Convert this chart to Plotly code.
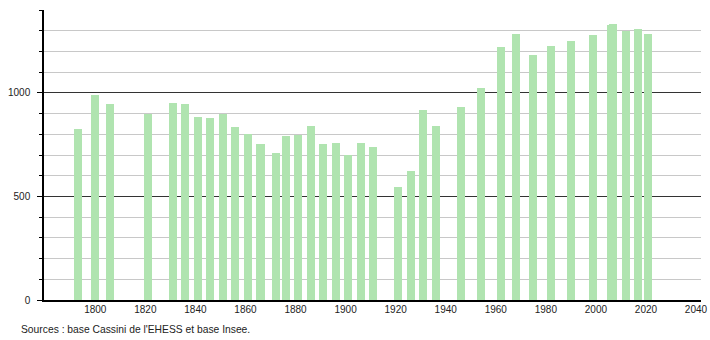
import plotly.graph_objects as go

years = [1793, 1800, 1806, 1821, 1831, 1836, 1841, 1846, 1851, 1856,
         1861, 1866, 1872, 1876, 1881, 1886, 1891, 1896, 1901, 1906,
         1911, 1921, 1926, 1931, 1936, 1946, 1954, 1962, 1968, 1975,
         1982, 1990, 1999, 2006, 2007, 2012, 2017, 2021]
population = [824, 988, 945, 896, 951, 945, 883, 879, 900, 835,
              800, 751, 708, 792, 798, 838, 751, 760, 701, 760,
              740, 547, 625, 916, 838, 932, 1022, 1221, 1284, 1182,
              1225, 1249, 1280, 1328, 1332, 1301, 1308, 1284]
x_ticks = [1800, 1820, 1840, 1860, 1880, 1900, 1920, 1940, 1960, 1980, 2000, 2020, 2040]
y_ticks = [0, 500, 1000]
source_text = "Sources : base Cassini de l'EHESS et base Insee."

W, H = 710, 340
L, R, T, B = 44, 9, 10, 40

fig = go.Figure()
fig.add_trace(go.Bar(
    x=years, y=population, width=3.2,
    marker=dict(color="#b0e4b0", line=dict(width=0)),
    hoverinfo="x+y",
))

font = dict(family="Liberation Sans, Arial, sans-serif", size=10, color="#222")

fig.update_layout(
    width=W, height=H,
    margin=dict(l=L, r=R, t=T, b=B, pad=0, autoexpand=False),
    paper_bgcolor="white", plot_bgcolor="white",
    showlegend=False,
    font=font,
    bargap=0,
    xaxis=dict(
        range=[1779.5, 2042], tickvals=x_ticks, showgrid=False, zeroline=False,
        showline=True, linecolor="black", linewidth=1.5, ticks="",
        tickfont=font, fixedrange=True, automargin=False, ticklabelstandoff=-1,
    ),
    yaxis=dict(
        range=[0, 1400], tickvals=y_ticks, showgrid=True, gridcolor="#333333",
        gridwidth=1, zeroline=False, showline=True, linecolor="black", linewidth=1.5,
        ticks="outside", ticklen=5, tickcolor="black", tickwidth=1,
        ticklabelstandoff=5, tickfont=font, fixedrange=True, automargin=False,
        minor=dict(dtick=100, ticks="outside", ticklen=3, tickcolor="black",
                   showgrid=True, gridcolor="#c8c8c8", gridwidth=1),
    ),
    annotations=[dict(
        text=source_text, xref="paper", yref="paper",
        x=(19 - L) / (W - L - R), y=(H - B - T - (329 - T)) / (H - T - B),
        xanchor="left", yanchor="middle", showarrow=False,
        font=dict(family="Liberation Sans, Arial, sans-serif", size=10.3, color="#222"),
    )],
)

fig.write_html("out.html")
